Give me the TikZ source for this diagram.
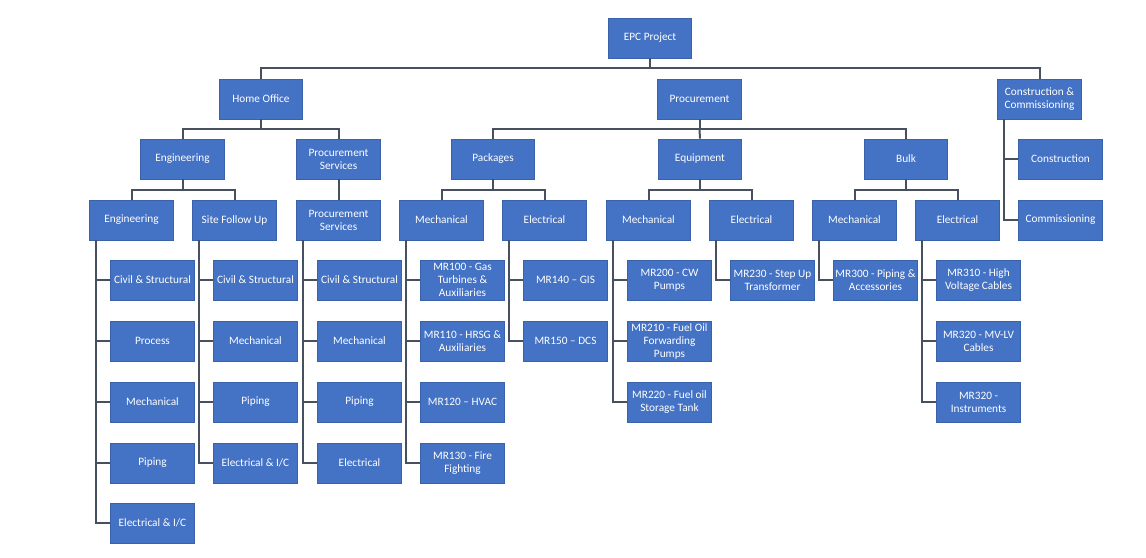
\documentclass[tikz,border=0pt]{standalone}
\usepackage{fontspec}
\setmainfont{Carlito}
\definecolor{boxfill}{HTML}{4472C4}
\definecolor{boxline}{HTML}{3A62AA}
\definecolor{conline}{HTML}{46505E}
\tikzset{
  box/.style={draw=boxline, line width=0.8pt, fill=boxfill, text=white,
    minimum width=83.5pt, minimum height=40pt, inner sep=1pt, align=center,
    font=\fontsize{11.3}{13}\selectfont},
  conn/.style={draw=conline, line width=2pt, line join=miter}
}
\begin{document}
\begin{tikzpicture}[x=1pt,y=-1pt]
\useasboundingbox (0,0) rectangle (1146,557);
\fill[white] (0,0) rectangle (1146,557);
% level 1 and 2
\node[box] (epc) at (650,38) {EPC Project};
\node[box] (ho) at (261,99) {Home Office};
\node[box] (proc) at (699.5,99) {Procurement};
\node[box] (cc) at (1039.5,99) {Construction \&\\Commissioning};
% level 3
\node[box] (eng) at (182.5,159) {Engineering};
\node[box] (ps) at (338.5,159) {Procurement\\Services};
\node[box] (pkg) at (493,159) {Packages};
\node[box] (eqp) at (700,159) {Equipment};
\node[box] (blk) at (906,159) {Bulk};
\node[box] (con) at (1060.5,159) {Construction};
% level 4
\node[box] (engE) at (131.5,220) {Engineering};
\node[box] (sfu) at (234.5,220) {Site Follow Up};
\node[box] (psB) at (338.5,220) {Procurement\\Services};
\node[box] (pm) at (441.5,220) {Mechanical};
\node[box] (pe) at (544.5,220) {Electrical};
\node[box] (em) at (648.5,220) {Mechanical};
\node[box] (ee) at (751.5,220) {Electrical};
\node[box] (bm) at (854.5,220) {Mechanical};
\node[box] (be) at (957.5,220) {Electrical};
\node[box] (com) at (1060.5,220) {Commissioning};
% bus connectors
\draw[conn] (epc.south) -- ++(0,10.5) coordinate (b1);
\draw[conn] (ho.north) -- ++(0,-10.5) -| (cc.north);
\draw[conn] (ho.south) -- ++(0,10) coordinate (b2);
\draw[conn] (eng.north) -- ++(0,-10) -| (ps.north);
\draw[conn] (proc.south) -- ++(0,10) coordinate (b3);
\draw[conn] (pkg.north) -- ++(0,-10) -| (blk.north);
\draw[conn] (b3) -- (eqp.north);
\draw[conn] (eng.south) -- ++(0,10) coordinate (b4);
\draw[conn] (engE.north) -- ++(0,-10) -| (sfu.north);
\draw[conn] (ps.south) -- (psB.north);
\draw[conn] (pkg.south) -- ++(0,10) coordinate (b5);
\draw[conn] (pm.north) -- ++(0,-10) -| (pe.north);
\draw[conn] (eqp.south) -- ++(0,10) coordinate (b6);
\draw[conn] (em.north) -- ++(0,-10) -| (ee.north);
\draw[conn] (blk.south) -- ++(0,10) coordinate (b7);
\draw[conn] (bm.north) -- ++(0,-10) -| (be.north);
% construction & commissioning
\draw[conn] ([xshift=7pt]cc.south west) |- (con.west);
\draw[conn] ([xshift=7pt]cc.south west) |- (com.west);
% leaf children
\foreach \p/\n/\r/\t in {
  engE/1/280/{Civil \& Structural}, engE/2/341/{Process}, engE/3/402/{Mechanical},
  engE/4/463/{Piping}, engE/5/523/{Electrical \& I/C},
  sfu/1/280/{Civil \& Structural}, sfu/2/341/{Mechanical}, sfu/3/402/{Piping},
  sfu/4/463/{Electrical \& I/C},
  psB/1/280/{Civil \& Structural}, psB/2/341/{Mechanical}, psB/3/402/{Piping},
  psB/4/463/{Electrical},
  pm/1/280/{MR100 - Gas\\Turbines \&\\Auxiliaries}, pm/2/341/{MR110 - HRSG \&\\Auxiliaries},
  pm/3/402/{MR120 -- HVAC}, pm/4/463/{MR130 - Fire\\Fighting},
  pe/1/280/{MR140 -- GIS}, pe/2/341/{MR150 -- DCS},
  em/1/280/{MR200 - CW\\Pumps}, em/2/341/{MR210 - Fuel Oil\\Forwarding\\Pumps},
  em/3/402/{MR220 - Fuel oil\\Storage Tank},
  ee/1/280/{MR230 - Step Up\\Transformer},
  bm/1/280/{MR300 - Piping \&\\Accessories},
  be/1/280/{MR310 - High\\Voltage Cables}, be/2/341/{MR320 - MV-LV\\Cables},
  be/3/402/{MR320 -\\Instruments}}
{
  \node[box, anchor=west, xshift=21pt] (\p\n) at (\p.west |- 0,\r) {\t};
  \draw[conn] ([xshift=7pt]\p.south west) |- (\p\n.west);
}
\end{tikzpicture}
\end{document}
